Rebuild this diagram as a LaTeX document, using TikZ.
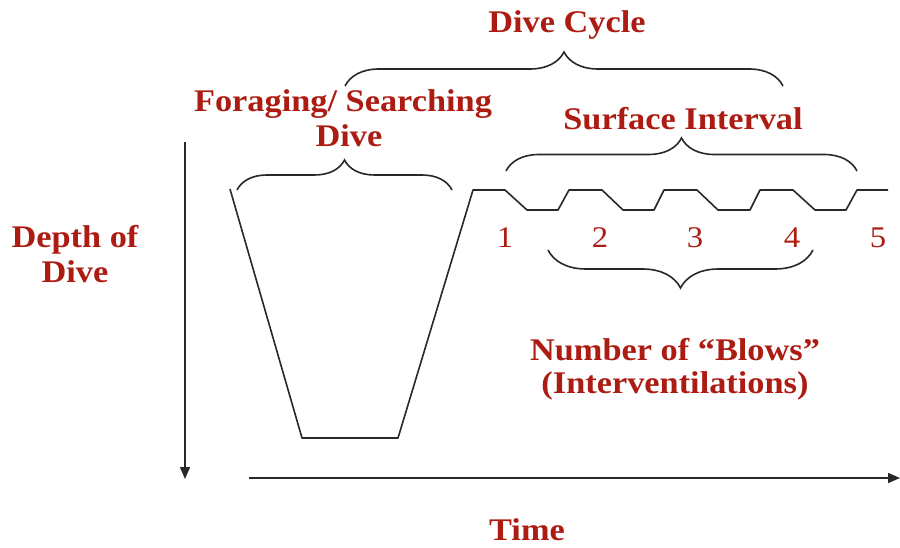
\documentclass[tikz,border=0pt]{standalone}
\usepackage{fontspec}
\setmainfont[FakeStretch=1.09]{Liberation Serif}
\usetikzlibrary{decorations.pathreplacing,arrows.meta}
\definecolor{lblred}{RGB}{172,28,18}
\definecolor{ink}{RGB}{40,40,40}
\begin{document}
\begin{tikzpicture}[x=1pt,y=-1pt,
  lbl/.style={text=lblred,font=\bfseries\fontsize{31.5}{35}\selectfont,align=center,inner sep=0pt,anchor=base},
  num/.style={text=lblred,font=\fontsize{30}{35}\selectfont,inner sep=0pt,anchor=base},
  wline/.style={draw=ink,line width=1.6pt,line join=round},
  brc/.style={draw=ink,line width=1.6pt,decorate,decoration={brace,amplitude=#1}}]
\useasboundingbox (0,0) rectangle (900,548);

% axes
\coordinate (vtop) at (185,142);
\coordinate (vbot) at (185,479);
\coordinate (hleft) at (249,478);
\coordinate (hright) at (900,478);
\draw[wline,-{Triangle[width=10pt,length=12pt]}] (vtop) -- (vbot);
\draw[wline,-{Triangle[width=10pt,length=12pt]}] (hleft) -- (hright);

% dive profile
\draw[wline] (230,189) -- (302,438) -- (398,438) -- (473,190) -- (505,190)
  -- (527,210) -- (558,210) -- (569,190) -- (602,190)
  -- (623,210) -- (654,210) -- (664,190) -- (697,190)
  -- (718,210) -- (750,210) -- (760,190) -- (793,190)
  -- (815,210) -- (846,210) -- (857,190) -- (888,190);

% braces
\coordinate (dcL) at (345,86);
\coordinate (dcR) at (783,86);
\draw[brc=34pt] (dcL) -- (dcR);
\coordinate (fdL) at (237,190);
\coordinate (fdR) at (452,190);
\draw[brc=30pt] (fdL) -- (fdR);
\coordinate (siL) at (506,171);
\coordinate (siR) at (857,171);
\draw[brc=33pt] (siL) -- (siR);
\coordinate (nbL) at (548,250);
\coordinate (nbR) at (813,250);
\draw[brc=38pt] (nbR) -- (nbL);

% labels
\node[lbl] (cycle) at (567,33) {Dive Cycle};
\node[lbl] (forag) at (343,112) {Foraging/ Searching};
\node[lbl] (foragb) at (349,147) {Dive};
\node[lbl] (surf) at (683,130) {Surface Interval};
\node[lbl] (depth) at (75,248) {Depth of};
\node[lbl] (depthb) at (75,283) {Dive};
\node[lbl] (blows) at (675,360) {Number of “Blows”};
\node[lbl] (interv) at (675,393) {(Interventilations)};
\node[lbl] (time) at (527,540) {Time};

\node[num] (n1) at (505,248) {1};
\node[num] (n2) at (600,248) {2};
\node[num] (n3) at (695,248) {3};
\node[num] (n4) at (792,248) {4};
\node[num] (n5) at (878,248) {5};
\end{tikzpicture}
\end{document}
